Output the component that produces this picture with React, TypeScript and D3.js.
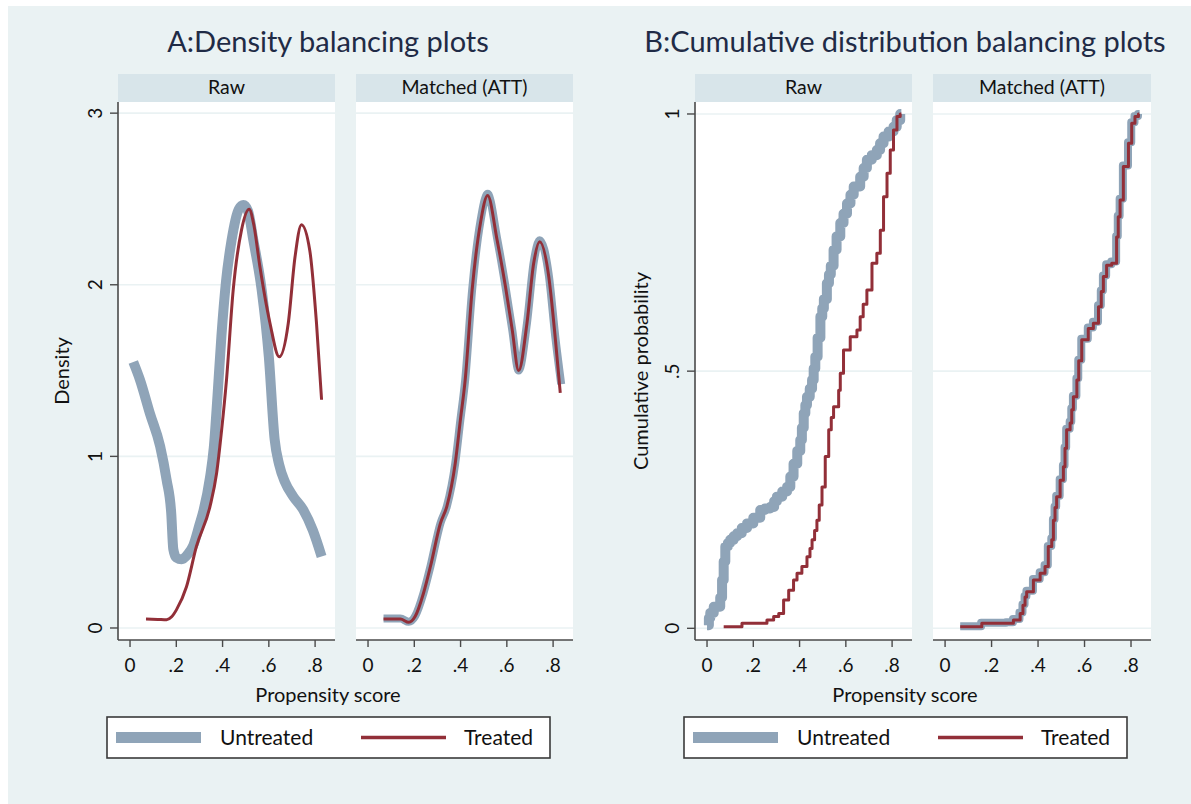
import * as d3 from "d3";
import React from "react";

// ---- data ----
const xTicks = [0, 0.2, 0.4, 0.6, 0.8];
const xTickLabels = ["0", ".2", ".4", ".6", ".8"];
const densTicks = [0, 1, 2, 3];
const densTickLabels = ["0", "1", "2", "3"];
const cdfTicks = [0, 0.5, 1];
const cdfTickLabels = ["0", ".5", "1"];
const panelNames = ["Raw", "Matched (ATT)"];
const legendNames = ["Untreated", "Treated"];

// density, raw sample
const densRawUntreated: [number, number][] = [
	[0.014, 1.55], [0.043, 1.446], [0.086, 1.25], [0.13, 1.06], [0.158, 0.864], [0.178, 0.67],
	[0.187, 0.46], [0.2, 0.41], [0.223, 0.4], [0.25, 0.43], [0.273, 0.48], [0.3, 0.6],
	[0.317, 0.68], [0.346, 0.88], [0.362, 1.05], [0.378, 1.35], [0.395, 1.7], [0.415, 2.02],
	[0.439, 2.26], [0.47, 2.44], [0.49, 2.465], [0.51, 2.43], [0.533, 2.26], [0.569, 1.97],
	[0.6, 1.58], [0.625, 1.1], [0.645, 0.95], [0.67, 0.85], [0.705, 0.767], [0.748, 0.69],
	[0.79, 0.57], [0.828, 0.417]
];
const densRawTreated: [number, number][] = [
	[0.069, 0.052], [0.12, 0.05], [0.158, 0.048], [0.18, 0.065], [0.201, 0.107], [0.244, 0.24],
	[0.287, 0.475], [0.346, 0.71], [0.374, 0.9], [0.396, 1.155], [0.417, 1.446], [0.446, 1.97],
	[0.482, 2.32], [0.515, 2.44], [0.535, 2.35], [0.562, 2.1], [0.605, 1.776], [0.645, 1.58],
	[0.684, 1.776], [0.713, 2.16], [0.741, 2.35], [0.777, 2.2], [0.806, 1.776], [0.828, 1.33]
];

// density, matched sample
const densMatchedUntreated: [number, number][] = [
	[0.067, 0.055], [0.14, 0.055], [0.176, 0.036], [0.204, 0.07], [0.24, 0.205], [0.27, 0.36],
	[0.313, 0.61], [0.341, 0.71], [0.377, 0.96], [0.399, 1.21], [0.42, 1.446], [0.45, 1.97],
	[0.486, 2.37], [0.517, 2.53], [0.558, 2.27], [0.594, 1.99], [0.623, 1.74], [0.651, 1.5],
	[0.687, 1.776], [0.716, 2.13], [0.742, 2.26], [0.781, 2.06], [0.81, 1.69], [0.835, 1.42]
];
const densMatchedTreated: [number, number][] = [
	[0.067, 0.052], [0.14, 0.052], [0.176, 0.033], [0.204, 0.068], [0.24, 0.204], [0.27, 0.36],
	[0.313, 0.61], [0.341, 0.71], [0.377, 0.96], [0.399, 1.21], [0.42, 1.446], [0.45, 1.97],
	[0.486, 2.36], [0.517, 2.52], [0.558, 2.26], [0.594, 1.99], [0.623, 1.74], [0.651, 1.5],
	[0.687, 1.776], [0.716, 2.125], [0.742, 2.25], [0.781, 2.05], [0.81, 1.68], [0.831, 1.37]
];

// cumulative distribution, raw sample
const cdfRawUntreated: [number, number][] = [
	[0.0, 0.006], [0.008, 0.02], [0.014, 0.03], [0.029, 0.042], [0.057, 0.06], [0.065, 0.094],
	[0.072, 0.13], [0.079, 0.159], [0.09, 0.166], [0.1, 0.172], [0.115, 0.179], [0.13, 0.185],
	[0.15, 0.195], [0.173, 0.204], [0.2, 0.215], [0.23, 0.23], [0.25, 0.233], [0.273, 0.236],
	[0.29, 0.247], [0.302, 0.256], [0.325, 0.266], [0.346, 0.275], [0.36, 0.295], [0.374, 0.32],
	[0.39, 0.345], [0.403, 0.366], [0.41, 0.39], [0.418, 0.418], [0.425, 0.434], [0.432, 0.45],
	[0.444, 0.466], [0.454, 0.483], [0.461, 0.505], [0.468, 0.528], [0.478, 0.565], [0.49, 0.606],
	[0.498, 0.622], [0.505, 0.64], [0.518, 0.671], [0.527, 0.688], [0.535, 0.705], [0.547, 0.736],
	[0.56, 0.762], [0.576, 0.788], [0.59, 0.806], [0.605, 0.826], [0.62, 0.843], [0.634, 0.859],
	[0.662, 0.878], [0.677, 0.895], [0.691, 0.911], [0.712, 0.92], [0.734, 0.93], [0.748, 0.943],
	[0.763, 0.956], [0.785, 0.966], [0.806, 0.975], [0.82, 0.988], [0.835, 1.0], [0.84, 1.0]
];
const cdfRawTreated: [number, number][] = [
	[0.072, 0.003], [0.151, 0.01], [0.259, 0.016], [0.288, 0.023], [0.31, 0.029], [0.331, 0.055],
	[0.353, 0.074], [0.374, 0.094], [0.389, 0.107], [0.41, 0.12], [0.432, 0.139], [0.445, 0.155],
	[0.454, 0.172], [0.465, 0.19], [0.475, 0.21], [0.485, 0.24], [0.497, 0.275], [0.511, 0.334],
	[0.526, 0.386], [0.537, 0.41], [0.547, 0.431], [0.569, 0.463], [0.576, 0.496], [0.59, 0.541],
	[0.619, 0.567], [0.648, 0.58], [0.662, 0.606], [0.675, 0.63], [0.691, 0.658], [0.713, 0.71],
	[0.734, 0.729], [0.749, 0.774], [0.763, 0.839], [0.778, 0.885], [0.792, 0.93], [0.806, 0.969],
	[0.821, 0.995], [0.835, 1.0], [0.84, 1.0]
];

// cumulative distribution, matched sample (both groups nearly identical)
const cdfMatchedTreated: [number, number][] = [
	[0.065, 0.003], [0.158, 0.01], [0.265, 0.01], [0.294, 0.016], [0.323, 0.029], [0.335, 0.045],
	[0.344, 0.061], [0.351, 0.071], [0.38, 0.094], [0.409, 0.107], [0.43, 0.12], [0.444, 0.159],
	[0.459, 0.172], [0.466, 0.21], [0.473, 0.235], [0.48, 0.256], [0.495, 0.288], [0.509, 0.314],
	[0.516, 0.35], [0.523, 0.386], [0.538, 0.399], [0.545, 0.425], [0.552, 0.45], [0.567, 0.483],
	[0.575, 0.52], [0.588, 0.561], [0.616, 0.583], [0.638, 0.593], [0.66, 0.625], [0.672, 0.655],
	[0.681, 0.684], [0.695, 0.706], [0.717, 0.71], [0.738, 0.761], [0.745, 0.8], [0.753, 0.833],
	[0.767, 0.898], [0.789, 0.943], [0.803, 0.982], [0.817, 0.995], [0.832, 1.0], [0.836, 1.0]
];
const cdfMatchedUntreated: [number, number][] = [
	[0.065, 0.004], [0.155, 0.011], [0.262, 0.012], [0.292, 0.018], [0.32, 0.031], [0.333, 0.047],
	[0.342, 0.063], [0.35, 0.073], [0.378, 0.096], [0.407, 0.109], [0.428, 0.123], [0.442, 0.16],
	[0.457, 0.175], [0.464, 0.212], [0.471, 0.237], [0.478, 0.258], [0.493, 0.29], [0.507, 0.317],
	[0.514, 0.352], [0.521, 0.388], [0.536, 0.402], [0.543, 0.428], [0.55, 0.452], [0.565, 0.486],
	[0.573, 0.522], [0.586, 0.563], [0.614, 0.585], [0.636, 0.596], [0.658, 0.628], [0.67, 0.657],
	[0.679, 0.686], [0.693, 0.708], [0.715, 0.713], [0.736, 0.763], [0.743, 0.802], [0.751, 0.835],
	[0.765, 0.9], [0.787, 0.945], [0.801, 0.984], [0.815, 0.996], [0.83, 1.0], [0.837, 1.0]
];

// ---- styling ----
const BG = "#eaf2f3";
const STRIP = "#d8e5ea";
const GRID = "#eaf2f3";
const AXIS = "#4a4a4a";
const GREY = "#8fa4b8";
const RED = "#922f38";
const TITLE = "#1f2b46";
const FONT = "Lato, 'Open Sans', sans-serif";

const PLOT_TOP = 102;
const PLOT_BOTTOM = 640;
const STRIP_TOP = 74;

type Series = { untreated: [number, number][]; treated: [number, number][]; greyWidth: number };

type ChartProps = {
	title: string;
	yLabel: string;
	panels: { left: number; right: number }[];
	series: Series[];
	yDomain: [number, number];
	yTicks: number[];
	yTickLabels: string[];
	step: boolean;
	titleX: number;
	yLabelX: number;
	legendX: number;
};

const Chart = (p: ChartProps) => {
	const y = d3.scaleLinear().domain(p.yDomain).range([PLOT_BOTTOM, PLOT_TOP]);
	const axisLeft = p.panels[0].left;
	return (
		<g fontFamily={FONT}>
			<text x={p.titleX} y={52} textAnchor="middle" fontSize={29} fill={TITLE}>{p.title}</text>
			{p.panels.map((pan, i) => {
				const x = d3.scaleLinear().domain([-0.052, 0.886]).range([pan.left, pan.right]);
				const line = d3.line<[number, number]>()
					.x(d => x(d[0]))
					.y(d => y(d[1]))
					.curve(p.step ? d3.curveStepAfter : d3.curveMonotoneX);
				const s = p.series[i];
				return (
					<g key={i}>
						<rect x={pan.left} y={STRIP_TOP} width={pan.right - pan.left} height={PLOT_TOP - STRIP_TOP} fill={STRIP} />
						<text x={(pan.left + pan.right) / 2} y={94} textAnchor="middle" fontSize={19.5} fill="#111">{panelNames[i]}</text>
						<rect x={pan.left} y={PLOT_TOP} width={pan.right - pan.left} height={PLOT_BOTTOM - PLOT_TOP} fill="#fff" />
						{p.yTicks.map(t => (
							<line key={t} x1={pan.left} x2={pan.right} y1={y(t)} y2={y(t)} stroke={GRID} strokeWidth={1.6} />
						))}
						<path d={line(s.untreated) || ""} fill="none" stroke={GREY} strokeWidth={s.greyWidth} strokeLinejoin="round" />
						<path d={line(s.treated) || ""} fill="none" stroke={RED} strokeWidth={3} strokeLinejoin="round" />
						<line x1={pan.left} x2={pan.right} y1={PLOT_BOTTOM} y2={PLOT_BOTTOM} stroke={AXIS} strokeWidth={1.6} />
						{xTicks.map((t, k) => (
							<g key={t}>
								<line x1={x(t)} x2={x(t)} y1={PLOT_BOTTOM} y2={PLOT_BOTTOM + 7} stroke={AXIS} strokeWidth={1.4} />
								<text x={x(t)} y={672} textAnchor="middle" fontSize={19} fill="#111">{xTickLabels[k]}</text>
							</g>
						))}
					</g>
				);
			})}
			<line x1={axisLeft} x2={axisLeft} y1={PLOT_TOP} y2={PLOT_BOTTOM} stroke={AXIS} strokeWidth={1.6} />
			{p.yTicks.map((t, k) => (
				<g key={t}>
					<line x1={axisLeft - 8} x2={axisLeft} y1={y(t)} y2={y(t)} stroke={AXIS} strokeWidth={1.4} />
					<text transform={`translate(${axisLeft - 16},${y(t)}) rotate(-90)`} textAnchor="middle" fontSize={19} fill="#111">{p.yTickLabels[k]}</text>
				</g>
			))}
			<text transform={`translate(${p.yLabelX},${(PLOT_TOP + PLOT_BOTTOM) / 2}) rotate(-90)`} textAnchor="middle" fontSize={20} fill="#111">{p.yLabel}</text>
			<text x={p.titleX} y={702} textAnchor="middle" fontSize={20} fill="#111">Propensity score</text>
			<g transform={`translate(${p.legendX},717)`}>
				<rect x={0} y={0} width={443} height={41} fill="#fff" stroke="#3a3a3a" strokeWidth={1.6} />
				<rect x={9} y={15} width={85} height={11} fill={GREY} />
				<text x={113} y={28} fontSize={21} fill="#111">{legendNames[0]}</text>
				<line x1={254} x2={339} y1={20.5} y2={20.5} stroke={RED} strokeWidth={3.5} />
				<text x={357} y={28} fontSize={21} fill="#111">{legendNames[1]}</text>
			</g>
		</g>
	);
};

export default function App() {
	return (
		<svg width={1191} height={804} style={{ position: "absolute", left: 0, top: 0 }}>
			<rect x={0} y={0} width={1191} height={804} fill="#fff" />
			<rect x={8} y={6} width={1183} height={798} fill={BG} />
			<Chart
				title="A:Density balancing plots"
				yLabel="Density"
				panels={[{ left: 118, right: 335 }, { left: 356, right: 573 }]}
				series={[
					{ untreated: densRawUntreated, treated: densRawTreated, greyWidth: 10 },
					{ untreated: densMatchedUntreated, treated: densMatchedTreated, greyWidth: 8 }
				]}
				yDomain={[-0.07, 3.065]}
				yTicks={densTicks}
				yTickLabels={densTickLabels}
				step={false}
				titleX={328}
				yLabelX={69}
				legendX={107}
			/>
			<Chart
				title="B:Cumulative distribution balancing plots"
				yLabel="Cumulative probability"
				panels={[{ left: 695, right: 912 }, { left: 933, right: 1151 }]}
				series={[
					{ untreated: cdfRawUntreated, treated: cdfRawTreated, greyWidth: 10 },
					{ untreated: cdfMatchedUntreated, treated: cdfMatchedTreated, greyWidth: 8 }
				]}
				yDomain={[-0.0227, 1.0233]}
				yTicks={cdfTicks}
				yTickLabels={cdfTickLabels}
				step={true}
				titleX={905}
				yLabelX={648}
				legendX={684}
			/>
		</svg>
	);
}
